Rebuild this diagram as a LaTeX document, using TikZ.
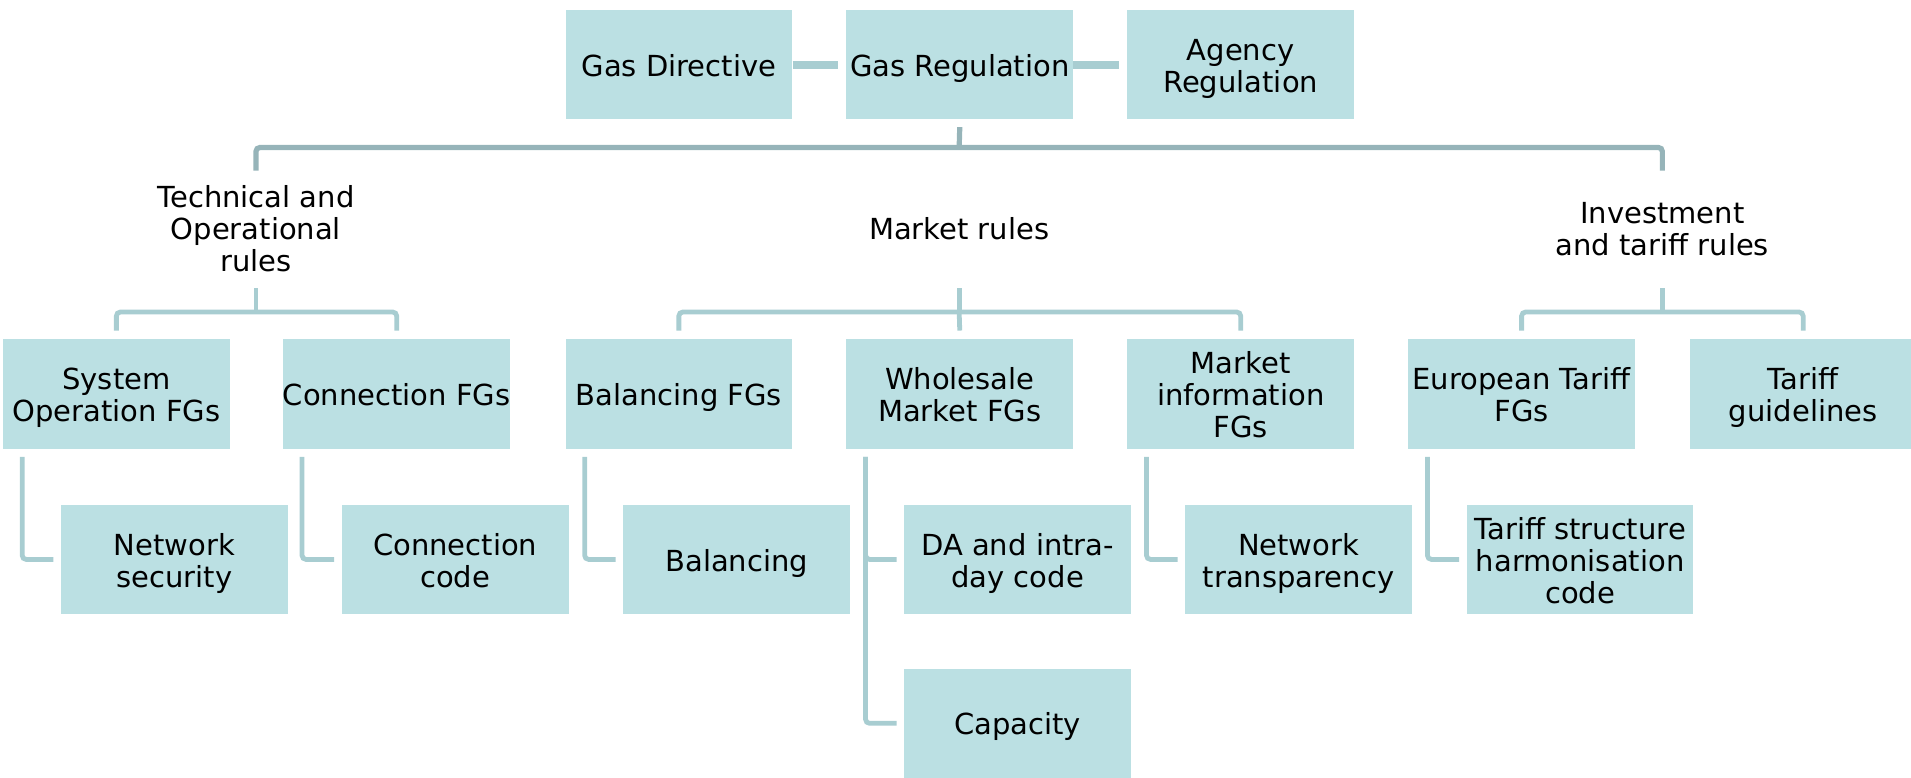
\documentclass[tikz,border=0pt]{standalone}
\usepackage{fontspec}
\setmainfont{DejaVu Sans}
\usetikzlibrary{calc}
\definecolor{boxfill}{HTML}{BBE0E3}
\definecolor{linklight}{HTML}{A8CDD1}
\definecolor{linkdark}{HTML}{96B4B9}
\tikzset{
x=0.6094pt, y=-0.6094pt,
every node/.style={font=\fontsize{14.5pt}{16pt}\selectfont, align=center, inner sep=0pt},
fg/.style={rectangle, fill=boxfill, minimum width=113.3pt, minimum height=54.8pt,
  text height=14.6pt, text depth=3pt},
twolines/.style={text height=30.6pt},
threelines/.style={text height=46.6pt},
group/.style={text=black},
link/.style={line width=2.4pt, draw=linklight, rounded corners=2pt},
trunk/.style={line width=2.6pt, draw=linkdark, rounded corners=2pt},
bond/.style={line width=4pt, draw=linklight},
}

\begin{document}
\begin{tikzpicture}
\useasboundingbox (0,0) rectangle (1568,638);
\clip (0,0) rectangle (1568,638);

% legal basis
\node[fg] (gasdir) at (557,53) {Gas Directive};
\node[fg] (gasreg) at (787.5,53) {Gas Regulation};
\node[fg,twolines] (agency) at (1018,53) {Agency\\Regulation};
\draw[bond, shorten >=4pt] (gasdir.east) -- (gasreg.west);
\draw[bond, shorten >=4pt] (gasreg.east) -- (agency.west);

% rule groups
\node[group] (tech) at (210,188) {Technical and\\Operational\\rules};
\node[group] (market) at (787,188) {Market rules};
\node[group] (invest) at (1364,188) {Investment\\and tariff rules};

\coordinate (topbar) at (787,121);
\coordinate (techtop) at (210,140);
\coordinate (investtop) at (1364,140);
\draw[trunk] ($(gasreg.south)+(0,6)$) -- (topbar);
\draw[trunk] (techtop) |- (topbar) -| (investtop);

% framework guidelines
\node[fg,twolines] (sysop) at (95.5,323.5) {System\\Operation FGs};
\node[fg] (connfg) at (325.5,323.5) {Connection FGs};
\node[fg] (balfg) at (557,323.5) {Balancing FGs};
\node[fg,twolines] (wholefg) at (787.5,323.5) {Wholesale\\Market FGs};
\node[fg,threelines] (mktinfo) at (1018,323.5) {Market\\information\\FGs};
\node[fg,twolines] (eurtar) at (1248.5,323.5) {European Tariff\\FGs};
\node[fg,twolines] (targuide) at (1479.5,323.5) {Tariff\\guidelines};

\coordinate (techsplit) at (210,256);
\coordinate (marketsplit) at (787,256);
\coordinate (investsplit) at (1364,256);
\draw[link] (techsplit) -- ++(0,-20);
\draw[link] ($(sysop.north)+(0,-7)$) |- (techsplit) -| ($(connfg.north)+(0,-7)$);
\draw[link] (marketsplit) -- ++(0,-20);
\draw[link] ($(balfg.north)+(0,-7)$) |- (marketsplit) -| ($(mktinfo.north)+(0,-7)$);
\draw[link] (marketsplit) -- ($(wholefg.north)+(0,-7)$);
\draw[link] (investsplit) -- ++(0,-20);
\draw[link] ($(eurtar.north)+(0,-7)$) |- (investsplit) -| ($(targuide.north)+(0,-7)$);

% network codes
\node[fg,twolines] (netsec) at (143,459) {Network\\security};
\node[fg,twolines] (conncode) at (373.5,459) {Connection\\code};
\node[fg] (balancing) at (604.5,459) {Balancing};
\node[fg,twolines] (dacode) at (835,459) {DA and intra-\\day code};
\node[fg,twolines] (nettrans) at (1065.5,459) {Network\\transparency};
\node[fg,threelines] (tarstruct) at (1296.5,459) {Tariff structure\\harmonisation\\code};
\node[fg] (capacity) at (835,593.5) {Capacity};

\draw[link] ($(sysop.south west)+(16,6)$) |- ($(netsec.west)+(-6,0)$);
\draw[link] ($(connfg.south west)+(16,6)$) |- ($(conncode.west)+(-6,0)$);
\draw[link] ($(balfg.south west)+(16,6)$) |- ($(balancing.west)+(-6,0)$);
\draw[link] ($(wholefg.south west)+(16,6)$) |- ($(capacity.west)+(-6,0)$);
\draw[link] ($(wholefg.south west)+(16,6)$) |- ($(dacode.west)+(-6,0)$);
\draw[link] ($(mktinfo.south west)+(16,6)$) |- ($(nettrans.west)+(-6,0)$);
\draw[link] ($(eurtar.south west)+(16,6)$) |- ($(tarstruct.west)+(-6,0)$);
\end{tikzpicture}
\end{document}
